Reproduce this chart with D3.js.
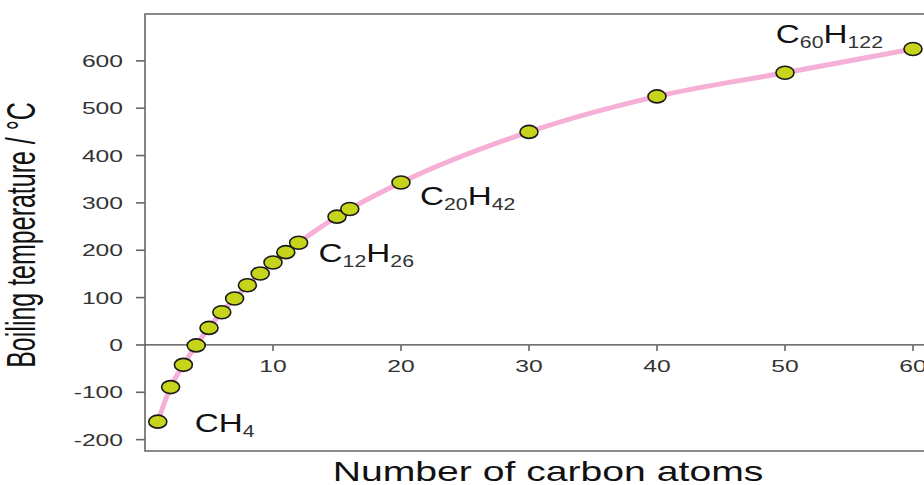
<!DOCTYPE html>
<html>
<head>
<meta charset="utf-8">
<script src="https://cdn.jsdelivr.net/npm/d3@7"></script>
<style>
  body { margin: 0; background: #fff; }
  text { font-family: "Liberation Sans", Arial, Helvetica, sans-serif; }
</style>
</head>
<body>
<div id="chart"></div>
<script>
// Data: number of carbon atoms vs boiling point of the alkane (°C)
const carbons = [1, 2, 3, 4, 5, 6, 7, 8, 9, 10, 11, 12, 15, 16, 20, 30, 40, 50, 60];
const boiling = [-162, -89, -42, -1, 36, 69, 98, 126, 151, 174, 196, 216, 271, 287, 343, 450, 525, 575, 625];
const xTicks = [10, 20, 30, 40, 50, 60];
const yTicks = [-200, -100, 0, 100, 200, 300, 400, 500, 600];
// labelled alkanes: carbon count, hydrogen count
const labelCarbons = [1, 12, 20, 60];
const labelH = [4, 26, 42, 122];

const W = 924, H = 485;
const stretch = 1.45; // the original picture is horizontally stretched

const svg = d3.select("#chart").append("svg")
  .attr("width", W).attr("height", H);

const x = d3.scaleLinear().domain([0, 60.86]).range([145, 924]);
const y = d3.scaleLinear().domain([-224, 699]).range([451, 14]);

// frame
svg.append("path")
  .attr("d", `M${W},${y.range()[1]}H${x.range()[0]}V${y.range()[0]}H${W}`)
  .attr("stroke", "#666").attr("stroke-width", 1.6).attr("fill", "none");

// zero line
svg.append("line")
  .attr("x1", x.range()[0]).attr("x2", W)
  .attr("y1", y(0)).attr("y2", y(0))
  .attr("stroke", "#444").attr("stroke-width", 1.3);

// helper: horizontally stretched text
function sText(g, tx, ty, str, size, anchor, fill) {
  return g.append("text")
    .attr("transform", `translate(${tx},${ty}) scale(${stretch},1)`)
    .attr("text-anchor", anchor)
    .attr("font-size", size)
    .attr("fill", fill)
    .text(str);
}

// y axis ticks
const yAx = svg.append("g");
yTicks.forEach(t => {
  yAx.append("line").attr("x1", 136).attr("x2", x.range()[0])
    .attr("y1", y(t)).attr("y2", y(t)).attr("stroke", "#666").attr("stroke-width", 1.6);
  sText(yAx, 123, y(t) + 6, t, 17, "end", "#333");
});

// x axis ticks on the zero line
const xAx = svg.append("g");
xTicks.forEach(t => {
  xAx.append("line").attr("x1", x(t)).attr("x2", x(t))
    .attr("y1", y(0)).attr("y2", y(0) + 6).attr("stroke", "#666").attr("stroke-width", 1.6);
  sText(xAx, x(t), y(0) + 27, t, 17, "middle", "#333");
});

// axis titles
svg.append("text")
  .attr("transform", `translate(35,235) scale(1.6,1) rotate(-90)`)
  .attr("text-anchor", "middle").attr("font-size", 25).attr("fill", "#111")
  .text("Boiling temperature / °C");
sText(svg, 548, 481, "Number of carbon atoms", 27, "middle", "#111");

// curve
const pts = carbons.map((c, i) => [c, boiling[i]]);
svg.append("path")
  .datum(pts)
  .attr("fill", "none")
  .attr("stroke", "#f6afd6")
  .attr("stroke-width", 5)
  .attr("stroke-linecap", "round")
  .attr("d", d3.line().x(d => x(d[0])).y(d => y(d[1])).curve(d3.curveMonotoneX));

// points
svg.append("g").selectAll("ellipse")
  .data(pts)
  .join("ellipse")
  .attr("cx", d => x(d[0]))
  .attr("cy", d => y(d[1]))
  .attr("rx", 9)
  .attr("ry", 6.5)
  .attr("fill", "#c6d41c")
  .attr("stroke", "#1a1a1a")
  .attr("stroke-width", 1.6);

// formula labels, offset from their point
const offsets = { 1: [37, 10, "start"], 12: [20, 19, "start"], 20: [19, 22, "start"], 60: [-30, -6, "end"] };
labelCarbons.forEach((c, i) => {
  const b = boiling[carbons.indexOf(c)];
  const [dx, dy, anchor] = offsets[c];
  const t = svg.append("text")
    .attr("transform", `translate(${x(c) + dx},${y(b) + dy}) scale(1.33,1)`)
    .attr("text-anchor", anchor)
    .attr("font-size", 25)
    .attr("fill", "#111");
  t.append("tspan").text("C");
  if (c > 1) t.append("tspan").attr("font-size", 16).attr("dy", 5).attr("fill", "#333").text(c);
  t.append("tspan").attr("dy", c > 1 ? -5 : 0).text("H");
  t.append("tspan").attr("font-size", 16).attr("dy", 5).attr("fill", "#333").text(labelH[i]);
});
</script>
</body>
</html>
